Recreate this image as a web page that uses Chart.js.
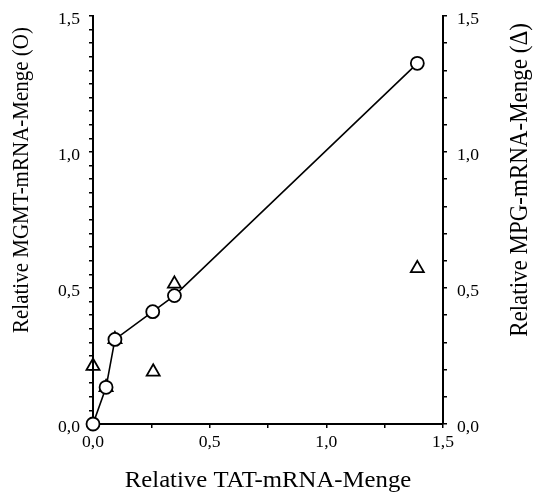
<!DOCTYPE html>
<html>
<head>
<meta charset="utf-8">
<script src="https://cdn.jsdelivr.net/npm/chart.js@4/dist/chart.umd.min.js"></script>
<style>
  html, body { margin: 0; padding: 0; background: #fff; }
  #wrap { width: 538px; height: 500px; }
</style>
</head>
<body>
<div id="wrap"><canvas id="chart"></canvas></div>
<script>
// values
const tatMgmt = [0, 0.056, 0.094, 0.256, 0.349, 1.39];
const mgmt    = [0, 0.135, 0.311, 0.413, 0.472, 1.326];
const tatMpg  = [0, 0.056, 0.094, 0.258, 0.349, 1.39];
const mpg     = [0.213, 0.135, 0.311, 0.192, 0.515, 0.572];

const tickLabels = [0, 0.5, 1.0, 1.5];

const xTitle = 'Relative TAT-mRNA-Menge';
const yTitle = 'Relative MGMT-mRNA-Menge (O)';
const y2Title = 'Relative MPG-mRNA-Menge (\u0394)';

const serif = 'Liberation Serif';
const stretch = 1.1; // the scan is a bit wider than tall

function fmt(v) {
  return v.toFixed(1).replace('.', ',');
}

function pts(xs, ys) {
  return xs.map((x, i) => ({ x: x, y: ys[i] }));
}

function wideText(ctx, text, x, y, align) {
  ctx.save();
  ctx.translate(x, y);
  ctx.scale(stretch, 1);
  ctx.textAlign = align;
  ctx.fillText(text, 0, 0);
  ctx.restore();
}

function sideText(ctx, text, x, y) {
  ctx.save();
  ctx.translate(x, y);
  ctx.rotate(-Math.PI / 2);
  ctx.scale(1, stretch);
  ctx.textAlign = 'center';
  ctx.fillText(text, 0, 0);
  ctx.restore();
}

// tick labels and axis titles, drawn by hand so they get the scan's look
const labelsPlugin = {
  id: 'labelsPlugin',
  afterDraw(chart) {
    const ctx = chart.ctx;
    const sx = chart.scales.x, sy = chart.scales.y, sy2 = chart.scales.y2;
    ctx.save();
    ctx.fillStyle = '#000';
    ctx.textBaseline = 'alphabetic';

    ctx.font = '16px "' + serif + '"';
    tickLabels.forEach(v => {
      wideText(ctx, fmt(v), sx.getPixelForValue(v), 447, 'center');
      wideText(ctx, fmt(v), 80, sy.getPixelForValue(v) + 8, 'right');
      wideText(ctx, fmt(v), 457, sy2.getPixelForValue(v) + 8, 'left');
    });

    ctx.font = '22.5px "' + serif + '"';
    wideText(ctx, xTitle, (chart.chartArea.left + chart.chartArea.right) / 2, 487, 'center');

    ctx.font = '21px "' + serif + '"';
    sideText(ctx, yTitle, 28, 180);

    ctx.font = '23px "' + serif + '"';
    sideText(ctx, y2Title, 527, 180);
    ctx.restore();
  }
};

const axisBase = {
  type: 'linear',
  min: 0,
  max: 1.5,
  z: 1,
  border: { display: true, color: '#000', width: 2 },
  grid: { drawOnChartArea: false, drawTicks: true, tickLength: 4, color: '#000', lineWidth: 1.5 },
  ticks: { display: false, autoSkip: false }
};

new Chart(document.getElementById('chart'), {
  type: 'scatter',
  data: {
    datasets: [
      {
        label: 'MGMT',
        data: pts(tatMgmt, mgmt),
        showLine: true,
        borderColor: '#000',
        borderWidth: 1.6,
        pointStyle: 'circle',
        pointRadius: 6.5,
        pointBorderWidth: 1.8,
        pointBorderColor: '#000',
        pointBackgroundColor: '#fff',
        yAxisID: 'y',
        clip: false
      },
      {
        label: 'MPG',
        data: pts(tatMpg, mpg),
        showLine: false,
        pointStyle: 'triangle',
        pointRadius: 7.5,
        pointBorderWidth: 1.8,
        pointBorderColor: '#000',
        pointBackgroundColor: 'rgba(255,255,255,0)',
        yAxisID: 'y2',
        clip: false
      }
    ]
  },
  options: {
    responsive: true,
    maintainAspectRatio: false,
    animation: false,
    layout: { padding: { top: 16, left: 0, right: 0, bottom: 0 } },
    plugins: { legend: { display: false }, tooltip: { enabled: false } },
    scales: {
      x: Object.assign({}, axisBase, {
        position: 'bottom',
        ticks: Object.assign({}, axisBase.ticks, { stepSize: 0.25 }),
        afterFit: s => { s.height = 76; }
      }),
      y: Object.assign({}, axisBase, {
        position: 'left',
        ticks: Object.assign({}, axisBase.ticks, { stepSize: 0.05 }),
        afterFit: s => { s.width = 93; }
      }),
      y2: Object.assign({}, axisBase, {
        position: 'right',
        ticks: Object.assign({}, axisBase.ticks, { stepSize: 0.1 }),
        afterFit: s => { s.width = 95; }
      })
    }
  },
  plugins: [labelsPlugin]
});
</script>
</body>
</html>
